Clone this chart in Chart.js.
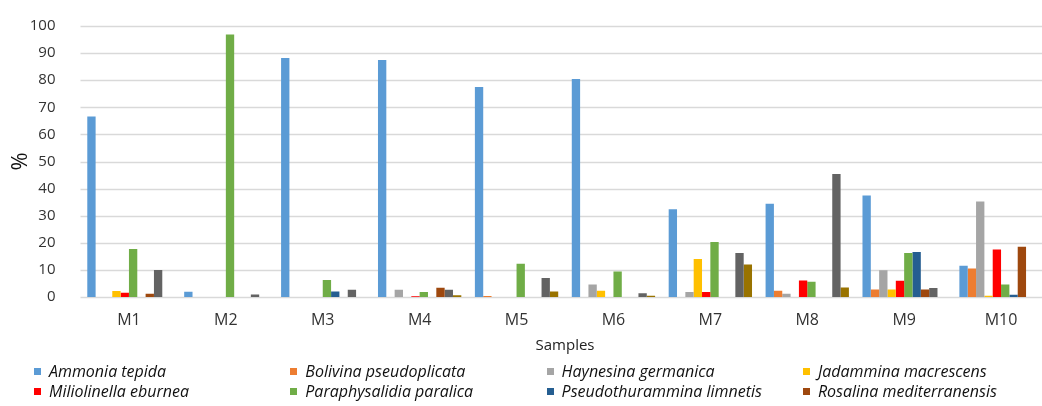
<!DOCTYPE html>
<html>
<head>
<meta charset="utf-8">
<script src="https://cdn.jsdelivr.net/npm/chart.js@4"></script>
<style>
  html, body { margin: 0; padding: 0; background: #fff; overflow: hidden; }
  #wrap { position: relative; width: 1042px; height: 406px; overflow: hidden; }
  #myChart { position: absolute; left: 0; top: 0; }
  #legend { position: absolute; left: 0; top: 0; width: 1042px; height: 406px; pointer-events: none;
            font-family: "Open Sans", sans-serif; font-style: italic; font-size: 16px; color: #111; }
  .item { position: absolute; white-space: nowrap; line-height: 20px; }
  .box { display: inline-block; width: 7px; height: 7px; margin-right: 8px; vertical-align: 2px; }
</style>
</head>
<body>
<div id="wrap">
  <canvas id="myChart" width="1058" height="406"></canvas>
  <div id="legend"></div>
</div>
<script>
// образцы
const samples = ['M1', 'M2', 'M3', 'M4', 'M5', 'M6', 'M7', 'M8', 'M9', 'M10'];

// виды (последние два в легенде не видны - обрезаны на картинке)
const speciesNames = [
    'Ammonia tepida', 'Bolivina pseudoplicata', 'Haynesina germanica', 'Jadammina macrescens',
    'Miliolinella eburnea', 'Paraphysalidia paralica', 'Pseudothurammina limnetis', 'Rosalina mediterranensis',
    'Series 9', 'Series 10'
];
const speciesColors = ['#5B9BD5', '#ED7D31', '#A5A5A5', '#FFC000', '#FF0000', '#70AD47', '#255E91', '#9E480E', '#636363', '#997300'];

// проценты по образцам M1..M10
const ammonia        = [66.6, 1.9, 88.2, 87.5, 77.5, 80.4, 32.4, 34.4, 37.5, 11.5];
const bolivina       = [0, 0, 0, 0, 0.4, 0, 0, 2.3, 2.8, 10.5];
const haynesina      = [0, 0, 0, 2.7, 0, 4.6, 1.8, 1.2, 9.9, 35.2];
const jadammina      = [2.2, 0, 0, 0, 0, 2.3, 14.0, 0, 2.8, 0.5];
const miliolinella   = [1.6, 0, 0, 0.3, 0, 0, 1.8, 6.1, 6.0, 17.5];
const paraphysalidia = [17.7, 96.9, 6.3, 1.8, 12.3, 9.4, 20.3, 5.6, 16.2, 4.6];
const pseudothur     = [0, 0, 2.0, 0, 0, 0, 0, 0, 16.6, 0.8];
const rosalina       = [1.2, 0, 0, 3.4, 0, 0, 0, 0, 2.8, 18.5];
const series9        = [10.0, 0.9, 2.7, 2.7, 7.0, 1.4, 16.2, 45.4, 3.3, 0];
const series10       = [0, 0, 0, 0.6, 2.0, 0.5, 12.0, 3.5, 0, 0];

const allValues = [ammonia, bolivina, haynesina, jadammina, miliolinella, paraphysalidia, pseudothur, rosalina, series9, series10];

const yTicks = [0, 10, 20, 30, 40, 50, 60, 70, 80, 90, 100];
const legendCount = 8; // видимых строк легенды

const datasets = allValues.map((vals, i) => ({
    label: speciesNames[i],
    data: vals,
    backgroundColor: speciesColors[i],
    borderWidth: 0,
    categoryPercentage: 0.86,
    barPercentage: 1.0
}));

// горизонтальная сетка по значениям оси y
const gridPlugin = {
    id: 'hGrid',
    beforeDatasetsDraw(chart) {
        const { ctx, chartArea, scales } = chart;
        ctx.save();
        ctx.strokeStyle = '#d9d9d9';
        ctx.lineWidth = 1.3;
        yTicks.forEach(v => {
            const y = Math.round(scales.y.getPixelForValue(v)) + 0.5;
            ctx.beginPath();
            ctx.moveTo(chartArea.left, y);
            ctx.lineTo(chartArea.right, y);
            ctx.stroke();
        });
        ctx.restore();
    }
};

const ctx = document.getElementById('myChart').getContext('2d');
const myChart = new Chart(ctx, {
    type: 'bar',
    data: { labels: samples, datasets: datasets },
    plugins: [gridPlugin],
    options: {
        responsive: false,
        animation: false,
        layout: { padding: { top: 14, right: 8.5, bottom: 51, left: 0 } },
        plugins: { legend: { display: false }, tooltip: { enabled: false } },
        scales: {
            x: {
                grid: { display: false },
                border: { display: false },
                ticks: { color: '#333', padding: 6, font: { family: 'Open Sans', size: 16 } },
                title: {
                    display: true,
                    text: 'Samples',
                    color: '#222',
                    padding: { top: 0, bottom: 0 },
                    font: { family: 'Open Sans', size: 15 }
                },
                afterFit: (scale) => { scale.height = 58; }
            },
            y: {
                min: yTicks[0],
                max: yTicks[yTicks.length - 1],
                grid: { display: false },
                border: { display: false },
                ticks: {
                    stepSize: yTicks[1] - yTicks[0],
                    color: '#333',
                    padding: 17,
                    font: { family: 'Open Sans', size: 15 }
                },
                title: {
                    display: true,
                    text: '%',
                    color: '#111',
                    padding: { top: 8, bottom: 0 },
                    font: { family: 'Open Sans', size: 22 }
                },
                afterFit: (scale) => { scale.width = 80.5; }
            }
        }
    }
});

// легенда в 4 колонки, как в Excel
const legendDiv = document.getElementById('legend');
for (let i = 0; i < legendCount; i++) {
    const col = i % 4;
    const row = Math.floor(i / 4);
    const el = document.createElement('div');
    el.className = 'item';
    el.style.left = (34 + col * 256.3) + 'px';
    el.style.top = (361 + row * 20) + 'px';
    el.innerHTML = '<span class="box" style="background:' + speciesColors[i] + '"></span>' + speciesNames[i];
    legendDiv.appendChild(el);
}
</script>
</body>
</html>
